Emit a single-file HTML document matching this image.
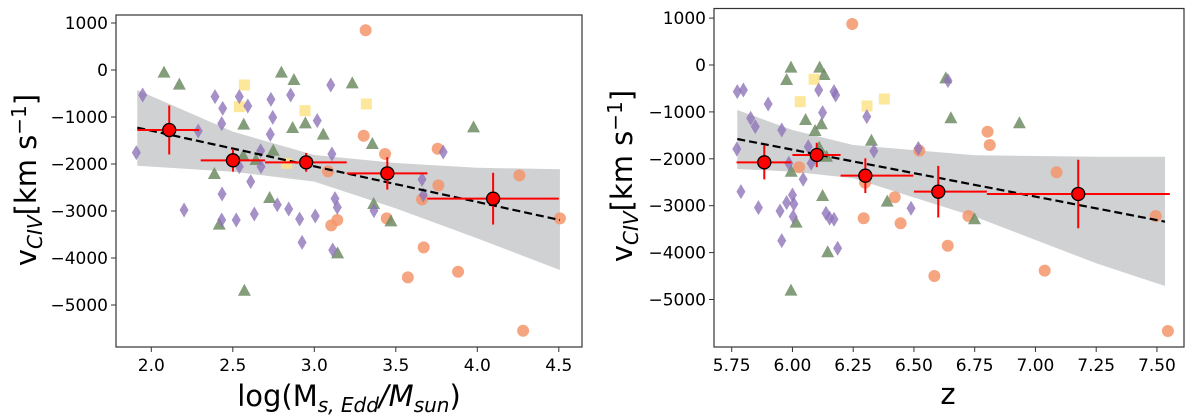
<!DOCTYPE html>
<html><head><meta charset="utf-8"><style>
body{margin:0;background:#fff;}
svg{display:block;font-family:"DejaVu Sans","Liberation Sans",sans-serif;}
</style></head><body>
<svg id="chart" width="1200" height="416" viewBox="0 0 1200 416" xmlns="http://www.w3.org/2000/svg"></svg>
<script>
// ---------- LEFT PANEL DATA ----------
const L_orange_x=[3.315,3.303,3.434,3.757,3.084,3.761,4.258,3.661,3.141,3.104,3.444,4.507,3.671,3.882,3.574,4.281];
const L_orange_y=[845,-1398,-1787,-1675,-2156,-2454,-2241,-2752,-3192,-3305,-3156,-3156,-3773,-4292,-4412,-5548];
const L_green_x=[2.078,2.172,2.798,2.875,3.233,2.567,2.867,2.945,3.055,3.356,3.977,2.748,2.564,2.642,2.387,2.726,3.364,2.417,3.47,3.143,2.571];
const L_green_y=[-57,-312,-57,-213,-284,-1163,-1234,-1135,-1376,-1575,-1220,-1717,-1830,-1915,-2213,-2724,-2851,-3291,-3220,-3901,-4696];
const L_yellow_x=[2.571,2.54,2.943,3.319,2.831];
const L_yellow_y=[-319,-780,-865,-723,-1986];
const L_purple_x=[1.947,1.908,2.288,2.391,2.54,2.438,2.592,2.432,2.734,2.855,3.101,2.745,2.73,3.018,2.671,2.673,2.54,3.108,3.791,2.61,3.661,2.434,3.669,2.201,3.127,3.141,2.773,2.843,2.432,2.521,2.632,2.91,3.006,3.366,2.925,3.113];
const L_purple_y=[-532,-1759,-1298,-567,-567,-816,-766,-1142,-624,-532,-319,-1007,-1369,-1078,-1717,-2057,-2057,-1787,-1745,-2376,-2327,-2639,-2660,-2979,-2738,-2922,-2866,-2958,-3192,-3192,-3064,-3171,-3107,-2993,-3667,-3830];
const L_bin_x=[2.11,2.501,2.95,3.448,4.097];
const L_bin_y=[-1277,-1922,-1965,-2199,-2738];
const L_bin_xlo=[1.914,2.303,2.698,3.199,3.694];
const L_bin_xhi=[2.294,2.698,3.199,3.694,4.5];
const L_bin_yerr=[520,240,200,345,550];
const L_fit_x=[1.914,4.507];
const L_fit_y=[-1227,-3192];
const L_band_x=[1.914,2.5,3.0,3.5,4.0,4.507];
const L_band_hi=[-426,-1312,-1809,-1979,-2079,-2113];
const L_band_lo=[-2036,-2164,-2376,-2944,-3582,-4256];
const L_xticks=[2.0,2.5,3.0,3.5,4.0,4.5];
const L_xticklabels=["2.0","2.5","3.0","3.5","4.0","4.5"];
const L_yticks=[1000,0,-1000,-2000,-3000,-4000,-5000];
const L_yticklabels=["1000","0","\u22121000","\u22122000","\u22123000","\u22124000","\u22125000"];

// ---------- RIGHT PANEL DATA ----------
const R_orange_x=[6.246,6.803,6.812,6.522,6.027,7.087,6.299,6.421,6.293,6.445,6.724,7.495,6.639,6.584,7.038,7.545];
const R_orange_y=[874,-1422,-1706,-1827,-2181,-2288,-2509,-2821,-3268,-3375,-3219,-3219,-3853,-4499,-4385,-5671];
const R_green_x=[5.994,6.112,5.976,6.13,6.631,6.652,6.934,6.054,6.119,6.093,6.325,6.11,6.14,5.995,6.124,6.39,6.749,6.015,6.145,5.994];
const R_green_y=[-57,-57,-320,-213,-284,-1136,-1243,-1173,-1264,-1407,-1614,-1763,-1955,-2275,-2793,-2914,-3290,-3362,-3993,-4812];
const R_yellow_x=[6.089,6.032,6.307,6.378];
const R_yellow_y=[-305,-782,-874,-725];
const R_purple_x=[5.773,5.798,5.9,6.108,6.171,6.178,6.64,6.124,6.306,5.828,5.847,5.956,5.771,6.065,6.335,6.518,5.985,6.077,6.044,5.788,5.86,6.0,5.976,6.006,5.949,6.003,6.138,6.153,6.171,6.488,5.956,6.186];
const R_purple_y=[-569,-533,-831,-533,-569,-640,-334,-1016,-1102,-1136,-1315,-1386,-1791,-1742,-1833,-1777,-2096,-2096,-2437,-2701,-3042,-2772,-2935,-2964,-3113,-3234,-3162,-3268,-3290,-3055,-3746,-3908];
const R_bin_x=[5.884,6.1,6.3,6.6,7.176];
const R_bin_y=[-2075,-1919,-2360,-2701,-2750];
const R_bin_xlo=[5.77,6.0,6.198,6.5,6.8];
const R_bin_xhi=[5.996,6.198,6.497,6.8,7.553];
const R_bin_yerr=[365,260,370,550,730];
const R_fit_x=[5.773,7.533];
const R_fit_y=[-1578,-3340];
const R_band_x=[5.773,6.0,6.25,6.75,7.25,7.533];
const R_band_hi=[-959,-1386,-1706,-1925,-1955,-1955];
const R_band_lo=[-2217,-2274,-2416,-3233,-4228,-4712];
const R_xticks=[5.75,6.0,6.25,6.5,6.75,7.0,7.25,7.5];
const R_xticklabels=["5.75","6.00","6.25","6.50","6.75","7.00","7.25","7.50"];
const R_yticks=[1000,0,-1000,-2000,-3000,-4000,-5000];
const R_yticklabels=["1000","0","\u22121000","\u22122000","\u22123000","\u22124000","\u22125000"];

const NS="http://www.w3.org/2000/svg";
const svg=document.getElementById('chart');
function mk(tag,attrs,parent){const e=document.createElementNS(NS,tag);for(const k in attrs)e.setAttribute(k,attrs[k]);(parent||svg).appendChild(e);return e;}

function panel(p,D){
  const sx=v=>p.x0px+(v-p.x0)*p.kx;
  const sy=v=>p.y0px-v*p.ky;
  const g=mk('g',{});
  
  
  let d='';
  D.bx.forEach((v,i)=>{d+=(i?'L':'M')+sx(v)+' '+sy(D.bhi[i])+' ';});
  for(let i=D.bx.length-1;i>=0;i--)d+='L'+sx(D.bx[i])+' '+sy(D.blo[i])+' ';
  const band=mk('path',{d:d+'Z',fill:'#cfd1d3'},g);
  
  
  D.ox.forEach((v,i)=>{const c=mk('circle',{cx:sx(v),cy:sy(D.oy[i]),r:6,fill:'#f4956b','fill-opacity':0.85},g);
    
    });
  D.gx.forEach((v,i)=>{const x=sx(v),y=sy(D.gy[i]);const t=mk('polygon',{points:`${x},${y-7} ${x-6.5},${y+5} ${x+6.5},${y+5}`,fill:'#6e8c63','fill-opacity':0.85},g);
    
    });
  D.yx.forEach((v,i)=>{const x=sx(v),y=sy(D.yy[i]);const s=mk('rect',{x:x-5.5,y:y-5.5,width:11,height:11,fill:'#fde38a','fill-opacity':0.85},g);
    
    });
  D.px.forEach((v,i)=>{const x=sx(v),y=sy(D.py[i]);const m=mk('polygon',{points:`${x},${y-7.5} ${x+4.5},${y} ${x},${y+7.5} ${x-4.5},${y}`,fill:'#8f74b9','fill-opacity':0.8},g);
    
    });
  const f=mk('line',{x1:sx(D.fx[0]),y1:sy(D.fy[0]),x2:sx(D.fx[1]),y2:sy(D.fy[1]),stroke:'#000','stroke-width':2.2,'stroke-dasharray':'8,4'},g);
  
  
  D.binx.forEach((v,i)=>{
    const x=sx(v),y=sy(D.biny[i]);
    const h=mk('line',{x1:sx(D.xlo[i]),x2:sx(D.xhi[i]),y1:y,y2:y,stroke:'#ff0000','stroke-width':2},g);
    
    
    const vv=mk('line',{x1:x,x2:x,y1:sy(D.biny[i]+D.yerr[i]),y2:sy(D.biny[i]-D.yerr[i]),stroke:'#ff0000','stroke-width':2},g);
    
    
    const c=mk('circle',{cx:x,cy:y,r:6.5,fill:'#ff0000',stroke:'#000','stroke-width':1.3},g);
    
    
  });
  const fr=mk('rect',{x:p.left,y:p.top,width:p.right-p.left,height:p.bottom-p.top,fill:'none',stroke:'#333','stroke-width':1.2},g);
  
  
  D.xt.forEach((v,i)=>{const x=sx(v);mk('line',{x1:x,x2:x,y1:p.bottom,y2:p.bottom+5,stroke:'#333','stroke-width':1},g);
    const t=mk('text',{x:x,y:p.bottom+24,'font-size':17,'text-anchor':'middle',fill:'#000'},g);t.textContent=D.xtl[i];
    
    });
  D.yt.forEach((v,i)=>{const y=sy(v);mk('line',{x1:p.left-5,x2:p.left,y1:y,y2:y,stroke:'#333','stroke-width':1},g);
    const t=mk('text',{x:p.left-8,y:y+6,'font-size':17,'text-anchor':'end',fill:'#000'},g);t.textContent=D.ytl[i];
    
    });
}

panel({name:'left-panel',left:116,right:582,top:15,bottom:347,x0:2.0,x0px:151.3,kx:163,y0px:70,ky:0.047},
 {bx:L_band_x,bhi:L_band_hi,blo:L_band_lo,ox:L_orange_x,oy:L_orange_y,gx:L_green_x,gy:L_green_y,yx:L_yellow_x,yy:L_yellow_y,px:L_purple_x,py:L_purple_y,
  fx:L_fit_x,fy:L_fit_y,binx:L_bin_x,biny:L_bin_y,xlo:L_bin_xlo,xhi:L_bin_xhi,yerr:L_bin_yerr,xt:L_xticks,xtl:L_xticklabels,yt:L_yticks,ytl:L_yticklabels});
panel({name:'right-panel',left:714,right:1184,top:8.5,bottom:347,x0:5.75,x0px:731.7,kx:243,y0px:65,ky:0.0469},
 {bx:R_band_x,bhi:R_band_hi,blo:R_band_lo,ox:R_orange_x,oy:R_orange_y,gx:R_green_x,gy:R_green_y,yx:R_yellow_x,yy:R_yellow_y,px:R_purple_x,py:R_purple_y,
  fx:R_fit_x,fy:R_fit_y,binx:R_bin_x,biny:R_bin_y,xlo:R_bin_xlo,xhi:R_bin_xhi,yerr:R_bin_yerr,xt:R_xticks,xtl:R_xticklabels,yt:R_yticks,ytl:R_yticklabels});
</script>
<svg style="position:absolute;left:0;top:0" width="1200" height="416" xmlns="http://www.w3.org/2000/svg">
  <text x="349" y="406" font-size="29" text-anchor="middle" font-family="DejaVu Sans, Liberation Sans, sans-serif">log(M<tspan font-size="20" font-style="italic" dy="6">s, Edd</tspan><tspan dy="-6" font-style="italic">/M</tspan><tspan font-size="20" font-style="italic" dy="6">sun</tspan><tspan dy="-6">)</tspan></text>
  <text x="948" y="404" font-size="29" text-anchor="middle" font-family="DejaVu Sans, Liberation Sans, sans-serif">z</text>
  <text transform="translate(36,180) rotate(-90)" font-size="29" text-anchor="middle" font-family="DejaVu Sans, Liberation Sans, sans-serif">v<tspan font-size="20" font-style="italic" dy="6">CIV</tspan><tspan dy="-6">[km s</tspan><tspan font-size="20" dy="-10">−1</tspan><tspan dy="10">]</tspan></text>
  <text transform="translate(632,176) rotate(-90)" font-size="29" text-anchor="middle" font-family="DejaVu Sans, Liberation Sans, sans-serif">v<tspan font-size="20" font-style="italic" dy="6">CIV</tspan><tspan dy="-6">[km s</tspan><tspan font-size="20" dy="-10">−1</tspan><tspan dy="10">]</tspan></text>
</svg>
</body></html>
